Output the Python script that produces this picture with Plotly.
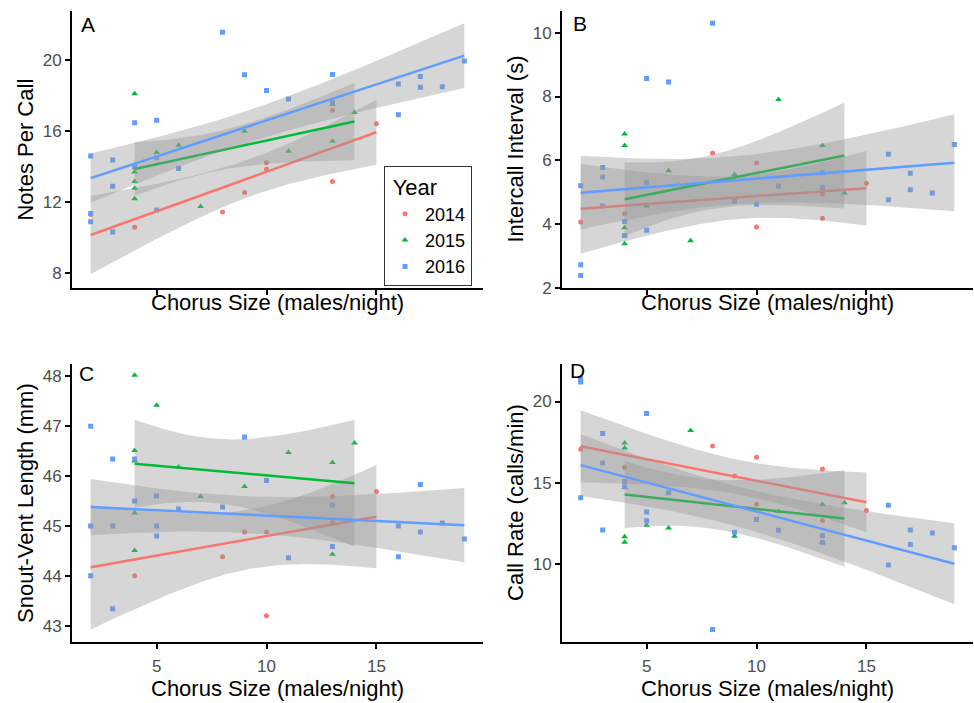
import math
import numpy as np
import plotly.graph_objects as go

# ---------------- data ----------------
years = ["2014", "2015", "2016"]
colors = {"2014": "#F8766D", "2015": "#00BA38", "2016": "#619CFF"}
symbols = {"2014": "circle", "2015": "triangle-up", "2016": "square"}

x_2014 = [2, 4, 8, 9, 10, 10, 13, 13, 15]
x_2015 = [4, 4, 4, 4, 4, 5, 6, 7, 9, 11, 13, 13, 14]
x_2016 = [2, 2, 2, 3, 3, 3, 4, 4, 5, 5, 5, 6, 8, 9, 10, 11, 13, 13, 16, 16, 17, 17, 18, 19]

notes_2014 = [11.3, 10.58, 11.44, 12.53, 14.21, 13.85, 17.18, 13.16, 16.42]
notes_2015 = [18.11, 13.69, 13.16, 12.77, 12.18, 14.8, 15.2, 11.75, 16.0, 14.87, 15.43, 17.5, 17.05]
notes_2016 = [14.6, 11.35, 10.88, 14.37, 12.89, 10.31, 16.47, 13.97, 16.62, 11.55, 14.5, 13.89,
              21.58, 19.18, 18.29, 17.81, 19.2, 17.6, 18.66, 16.92, 19.09, 18.48, 18.5, 19.96]

ici_2014 = [4.06, 4.32, 6.23, 4.75, 5.91, 3.90, 4.93, 4.18, 5.28]
ici_2015 = [6.82, 6.46, 3.88, 3.38, 3.64, 4.56, 5.67, 3.47, 5.55, 7.91, 6.46, 5.61, 4.97]
ici_2016 = [5.2, 2.72, 2.38, 5.77, 5.47, 4.56, 4.08, 3.64, 8.57, 5.29, 3.8, 8.46,
            10.3, 4.71, 4.62, 5.19, 5.61, 5.14, 6.19, 4.76, 5.59, 5.07, 4.97, 6.49]

svl_2014 = [45.0, 44.0, 44.38, 44.88, 44.88, 43.2, 45.59, 45.07, 45.69]
svl_2015 = [48.02, 46.51, 45.26, 44.51, 46.3, 47.42, 46.18, 45.59, 45.79, 46.47, 46.27, 44.43, 46.66]
svl_2016 = [47.0, 45.0, 44.0, 46.34, 45.0, 43.34, 46.34, 45.5, 45.6, 45.0, 44.8, 45.34,
            45.38, 46.78, 45.91, 44.36, 45.42, 44.59, 45.0, 44.38, 45.83, 44.88, 45.06, 44.74]

rate_2014 = [17.05, 15.93, 17.26, 15.41, 16.56, 13.66, 15.83, 12.66, 13.27]
rate_2015 = [17.44, 17.13, 14.7, 11.65, 11.32, 12.36, 12.2, 18.21, 11.69, 13.21, 13.64, 11.3, 13.76]
rate_2016 = [21.4, 21.2, 14.07, 18.03, 16.2, 12.07, 15.06, 14.74, 19.27, 13.19, 12.64, 14.37,
             5.93, 11.93, 12.72, 12.05, 11.71, 11.3, 13.6, 9.92, 12.07, 11.18, 11.89, 10.98]

panel_labels = ["A", "B", "C", "D"]
y_titles = ["Notes Per Call", "Intercall Interval (s)", "Snout-Vent Length (mm)", "Call Rate (calls/min)"]
x_title = "Chorus Size (males/night)"
x_ticks = [5, 10, 15]
y_ticks = [[8, 12, 16, 20], [2, 4, 6, 8, 10], [43, 44, 45, 46, 47, 48], [10, 15, 20]]

xs_by_year = {"2014": x_2014, "2015": x_2015, "2016": x_2016}
panels = [
    {"2014": notes_2014, "2015": notes_2015, "2016": notes_2016},
    {"2014": ici_2014, "2015": ici_2015, "2016": ici_2016},
    {"2014": svl_2014, "2015": svl_2015, "2016": svl_2016},
    {"2014": rate_2014, "2015": rate_2015, "2016": rate_2016},
]

# ---------------- stats helpers ----------------
def t_pdf(t, df):
    c = math.gamma((df + 1) / 2) / (math.sqrt(df * math.pi) * math.gamma(df / 2))
    return c * (1 + t * t / df) ** (-(df + 1) / 2)

def t_cdf(t, df, n=2000):
    h = t / n
    s = t_pdf(0, df) + t_pdf(t, df)
    for i in range(1, n):
        s += (4 if i % 2 else 2) * t_pdf(i * h, df)
    return 0.5 + s * h / 3

def t_ppf(p, df):
    lo, hi = 0.0, 20.0
    for _ in range(60):
        mid = (lo + hi) / 2
        if t_cdf(mid, df) < p:
            lo = mid
        else:
            hi = mid
    return (lo + hi) / 2

def lm_band(x, y, npts=80):
    x = np.asarray(x, float); y = np.asarray(y, float)
    n = len(x)
    xm, ym = x.mean(), y.mean()
    sxx = ((x - xm) ** 2).sum()
    b = ((x - xm) * (y - ym)).sum() / sxx
    a = ym - b * xm
    resid = y - (a + b * x)
    s = math.sqrt((resid ** 2).sum() / (n - 2))
    xs = np.linspace(x.min(), x.max(), npts)
    fit = a + b * xs
    se = s * np.sqrt(1 / n + (xs - xm) ** 2 / sxx)
    tq = t_ppf(0.975, n - 2)
    return xs, fit, fit - tq * se, fit + tq * se

# ---------------- layout geometry (pixels) ----------------
W, H = 974, 703
col_px = [(72, 483), (562, 973)]
row_px = [(11, 292), (369, 650)]
y_ranges = [[7.13, 22.79], [1.98, 10.69], [42.68, 48.24], [5.18, 22.30]]
x_range = [1.15, 19.85]

def px_x(p):
    return p / W

def px_y(p):
    return 1 - p / H

FONT = "Liberation Sans, Arial, Helvetica, sans-serif"
TITLE_SIZE = 22
TICK_SIZE = 17

fig = go.Figure()
layout = dict(width=W, height=H, margin=dict(l=0, r=0, t=0, b=0),
              plot_bgcolor="white", paper_bgcolor="white",
              font=dict(family=FONT, color="black"))
annotations = []

for i in range(4):
    r, c = divmod(i, 2)
    sfx = "" if i == 0 else str(i + 1)
    xa, ya = "x" + sfx, "y" + sfx
    x0, x1 = col_px[c]
    y0, y1 = row_px[r]
    layout["xaxis" + sfx] = dict(
        domain=[px_x(x0), px_x(x1)], range=x_range, anchor=ya,
        showline=True, linecolor="black", linewidth=1.8, mirror=False,
        ticks="outside", ticklen=5, tickwidth=1.8, tickcolor="black",
        tickvals=x_ticks, showticklabels=(r == 1), ticklabelstandoff=3,
        tickfont=dict(size=TICK_SIZE, color="#4D4D4D", family=FONT),
        showgrid=False, zeroline=False)
    layout["yaxis" + sfx] = dict(
        domain=[px_y(y1), px_y(y0)], range=y_ranges[i], anchor=xa,
        showline=True, linecolor="black", linewidth=1.8,
        ticks="outside", ticklen=5, tickwidth=1.8, tickcolor="black",
        tickvals=y_ticks[i],
        tickfont=dict(size=TICK_SIZE, color="#4D4D4D", family=FONT),
        showgrid=False, zeroline=False)

    data = panels[i]
    # points
    for yr in years:
        fig.add_trace(go.Scatter(
            x=xs_by_year[yr], y=data[yr], mode="markers", xaxis=xa, yaxis=ya,
            name=yr, legendgroup=yr, showlegend=(i == 0),
            marker=dict(color=colors[yr], symbol=symbols[yr],
                        size=6 if yr == "2015" else 5, line=dict(width=0)),
            hoverinfo="skip"))
    # smooths
    for yr in years:
        xs, fit, lo, hi = lm_band(xs_by_year[yr], data[yr])
        fig.add_trace(go.Scatter(
            x=np.concatenate([xs, xs[::-1]]), y=np.concatenate([hi, lo[::-1]]),
            mode="lines", fill="toself", fillcolor="rgba(153,153,153,0.4)",
            line=dict(width=0), xaxis=xa, yaxis=ya, showlegend=False, hoverinfo="skip"))
        fig.add_trace(go.Scatter(
            x=xs, y=fit, mode="lines", line=dict(color=colors[yr], width=2.5),
            xaxis=xa, yaxis=ya, showlegend=False, hoverinfo="skip"))

    # axis titles
    cx = (x0 + x1) / 2
    ty = 306 if r == 0 else 697
    annotations.append(dict(text=x_title, x=px_x(cx), y=px_y(ty), xref="paper", yref="paper",
                            showarrow=False, xanchor="center", yanchor="middle",
                            font=dict(size=TITLE_SIZE, color="black", family=FONT)))
    tx = 26 if c == 0 else 516
    annotations.append(dict(text=y_titles[i], x=px_x(tx), y=px_y((y0 + y1) / 2),
                            xref="paper", yref="paper", showarrow=False, textangle=-90,
                            xanchor="center", yanchor="middle",
                            font=dict(size=TITLE_SIZE, color="black", family=FONT)))
    # panel label
    lx = [88, 580, 86, 577][i]
    ly = [25, 24, 378, 375][i]
    annotations.append(dict(text=panel_labels[i], x=px_x(lx), y=px_y(ly), xref="paper", yref="paper",
                            showarrow=False, xanchor="center", yanchor="middle",
                            font=dict(size=21, color="black", family=FONT)))

layout["annotations"] = annotations
layout["legend"] = dict(
    x=px_x(384), y=px_y(168), xanchor="left", yanchor="top",
    bordercolor="#333333", borderwidth=1, bgcolor="white",
    font=dict(size=18, color="black", family=FONT),
    title=dict(text=" Year  ", font=dict(size=22, color="black", family=FONT)),
    itemsizing="trace", tracegroupgap=0, itemwidth=30)
fig.update_layout(**layout)
fig.write_html("out.html")
